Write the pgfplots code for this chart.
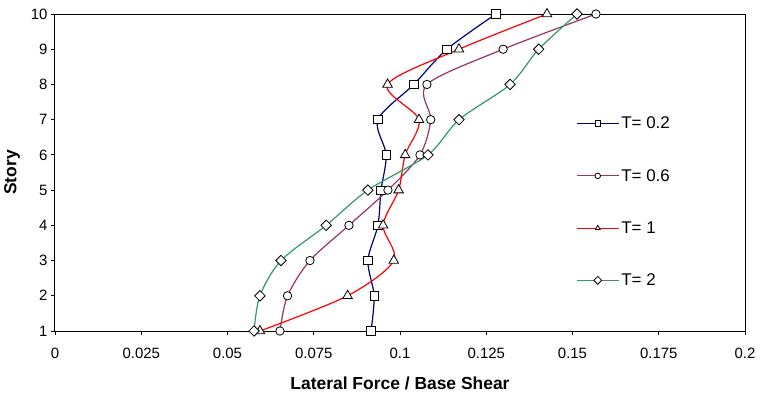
\documentclass[border=0pt]{standalone}
\usepackage{pgfplots}
\pgfplotsset{compat=1.18}
\usepackage{fontspec}
\setmainfont{Liberation Sans}
\definecolor{navyc}{HTML}{000080}
\definecolor{plumc}{HTML}{993366}
\definecolor{seagreen}{HTML}{339966}
\begin{document}
\begin{tikzpicture}
\useasboundingbox (-55bp,-71bp) rectangle (710bp,331bp);
\begin{axis}[
  at={(0,0)}, anchor=south west,
  scale only axis, width=690bp, height=317bp,
  xmin=0, xmax=0.2, ymin=1, ymax=10,
  xtick={0,0.025,0.05,0.075,0.1,0.125,0.15,0.175,0.2},
  xticklabels={0,0.025,0.05,0.075,0.1,0.125,0.15,0.175,0.2},
  ytick={1,2,3,4,5,6,7,8,9,10},
  tick align=outside, tick pos=left,
  major tick length=4bp,
  tick style={black, line width=0.8bp},
  axis line style={black, line width=1bp},
  ticklabel style={font=\fontsize{15}{18}\selectfont},
  xticklabel style={yshift=-10bp},
  /pgf/number format/assume math mode=true,
  xlabel={Lateral Force / Base Shear},
  ylabel={Story},
  label style={font=\fontsize{17.5}{20}\selectfont\bfseries},
  xlabel style={at={(axis description cs:0.5,-0.164)}, anchor=center},
  ylabel style={at={(axis description cs:-0.0623,0.5)}, anchor=center},
  legend style={draw=none, fill=none, at={(axis cs:0.151,7.14)}, anchor=north west,
    row sep=35bp, font=\fontsize{17}{20}\selectfont, inner sep=0pt},
  legend cell align=left,
  legend image code/.code={\draw[mark repeat=2,mark phase=2,#1,mark size=2.8bp] plot coordinates {(0bp,0bp) (21bp,0bp) (42bp,0bp)};},
  every axis plot/.append style={line width=1.2bp, smooth, tension=0.5},
]
\addplot[navyc, mark=square*, mark size=4.2bp, mark options={fill=white, draw=black, line width=0.8bp}] coordinates {
(0.0916,1) (0.0925,2) (0.0907,3) (0.0936,4) (0.0945,5) (0.0960,6) (0.0936,7) (0.1040,8) (0.1136,9) (0.1278,10)};
\addlegendentry{T= 0.2}
\addplot[plumc, mark=*, mark size=4.2bp, mark options={fill=white, draw=black, line width=0.8bp}] coordinates {
(0.0652,1) (0.0674,2) (0.0739,3) (0.0852,4) (0.0965,5) (0.1058,6) (0.1089,7) (0.1078,8) (0.1299,9) (0.1568,10)};
\addlegendentry{T= 0.6}
\addplot[red, mark=triangle*, mark size=5.5bp, mark options={fill=white, draw=black, line width=0.8bp}] coordinates {
(0.0594,1) (0.0848,2) (0.0982,3) (0.0951,4) (0.0996,5) (0.1015,6) (0.1055,7) (0.0964,8) (0.1171,9) (0.1426,10)};
\addlegendentry{T= 1}
\addplot[seagreen, mark=square*, mark size=3.7bp, mark options={fill=white, draw=black, line width=0.8bp, rotate=45}] coordinates {
(0.0577,1) (0.0594,2) (0.0655,3) (0.0786,4) (0.0907,5) (0.1081,6) (0.1171,7) (0.1319,8) (0.1402,9) (0.1513,10)};
\addlegendentry{T= 2}
\end{axis}
\end{tikzpicture}
\end{document}
